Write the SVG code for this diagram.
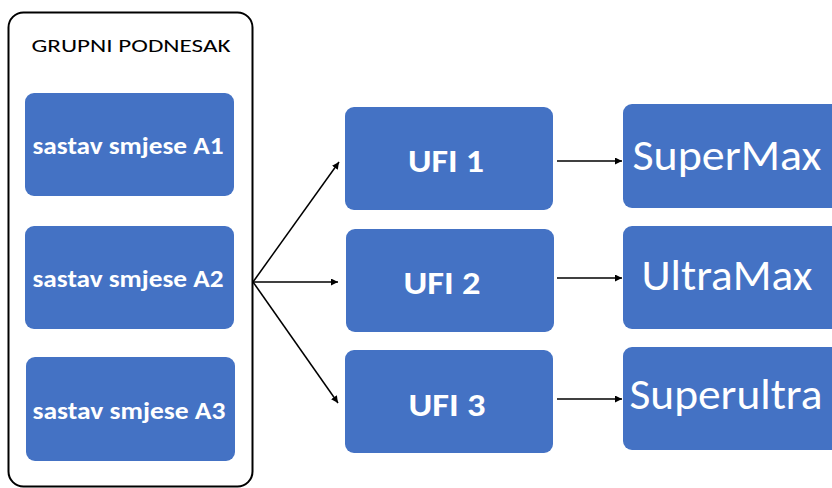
<svg xmlns="http://www.w3.org/2000/svg" width="832" height="488" viewBox="0 0 832 488">
<defs>
<style>
.box{fill:#4472C4;}
.lbl{fill:#ffffff;font-family:Carlito,"Open Sans","Liberation Sans",sans-serif;text-anchor:middle;}
.b{font-weight:bold;}
.conn line{stroke:#000;stroke-width:1.5;marker-end:url(#ah);}
</style>
<marker id="ah" viewBox="0 0 10 10" refX="10" refY="5" markerWidth="7" markerHeight="7" orient="auto" markerUnits="userSpaceOnUse">
<path d="M0,0 L10,5 L0,10 z" fill="#000"/>
</marker>
</defs>
<rect width="832" height="488" fill="#ffffff"/>
<g id="group">
<rect x="8.5" y="12.5" width="244" height="474" rx="15" fill="none" stroke="#000" stroke-width="2"/>
<text x="131" y="52" font-family="Carlito,'Open Sans','Liberation Sans',sans-serif" font-size="18.5" fill="#000" text-anchor="middle" textLength="199" lengthAdjust="spacingAndGlyphs">GRUPNI PODNESAK</text>
</g>
<g id="a1"><rect class="box" x="25" y="93" width="209" height="103" rx="9"/><text class="lbl b" x="128" y="154" font-size="24" textLength="191" lengthAdjust="spacingAndGlyphs">sastav smjese A1</text></g>
<g id="a2"><rect class="box" x="25" y="226" width="209" height="103" rx="9"/><text class="lbl b" x="128" y="287" font-size="24" textLength="191" lengthAdjust="spacingAndGlyphs">sastav smjese A2</text></g>
<g id="a3"><rect class="box" x="26" y="357" width="209" height="104" rx="9"/><text class="lbl b" x="129" y="419" font-size="24" textLength="193" lengthAdjust="spacingAndGlyphs">sastav smjese A3</text></g>
<g id="ufi1"><rect class="box" x="345" y="107" width="208" height="103" rx="9"/><text class="lbl b" x="446" y="172" font-size="33" textLength="76" lengthAdjust="spacingAndGlyphs">UFI 1</text></g>
<g id="ufi2"><rect class="box" x="346" y="229" width="208" height="103" rx="9"/><text class="lbl b" x="442" y="294" font-size="33" textLength="77" lengthAdjust="spacingAndGlyphs">UFI 2</text></g>
<g id="ufi3"><rect class="box" x="345" y="350" width="208" height="103" rx="9"/><text class="lbl b" x="447" y="416" font-size="33" textLength="77" lengthAdjust="spacingAndGlyphs">UFI 3</text></g>
<g id="supermax"><rect class="box" x="623" y="104" width="220" height="104" rx="9"/><text class="lbl" x="727" y="170" font-size="43" textLength="189" lengthAdjust="spacingAndGlyphs">SuperMax</text></g>
<g id="ultramax"><rect class="box" x="623" y="226" width="220" height="103" rx="9"/><text class="lbl" x="727" y="290" font-size="43" textLength="171" lengthAdjust="spacingAndGlyphs">UltraMax</text></g>
<g id="superultra"><rect class="box" x="623" y="347" width="220" height="103" rx="9"/><text class="lbl" x="726" y="409" font-size="43" textLength="193" lengthAdjust="spacingAndGlyphs">Superultra</text></g>
<g class="conn" id="connectors">
<line x1="253" y1="282" x2="339" y2="162"/>
<line x1="253" y1="282" x2="338" y2="282"/>
<line x1="253" y1="282" x2="338" y2="403"/>
<line x1="557" y1="161" x2="622" y2="161"/>
<line x1="557" y1="278" x2="622" y2="278"/>
<line x1="557" y1="399" x2="622" y2="399"/>
</g>
</svg>
